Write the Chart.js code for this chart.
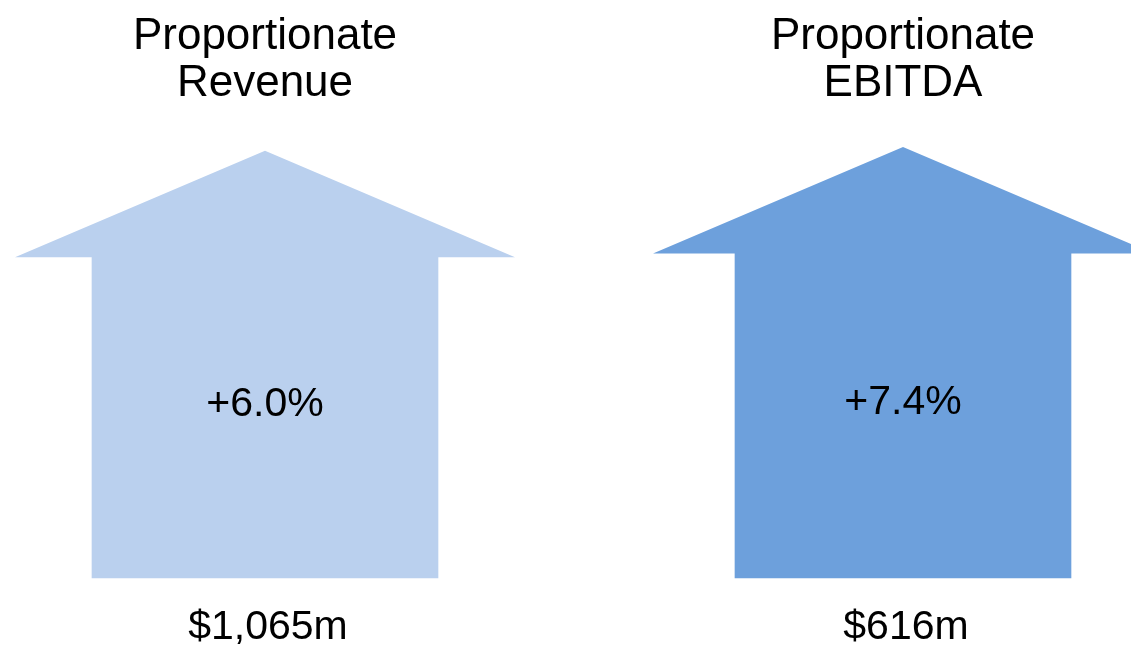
<!DOCTYPE html>
<html>
<head>
<meta charset="utf-8">
<script src="https://cdn.jsdelivr.net/npm/chart.js"></script>
<style>
  html, body { margin: 0; padding: 0; background: #ffffff; }
  #wrap { width: 1131px; height: 646px; }
</style>
</head>
<body>
<div id="wrap"><canvas id="arrows-chart"></canvas></div>
<script>
    // values
    const categories = [['Proportionate', 'Revenue'], ['Proportionate', 'EBITDA']];
    const growth = ['+6.0%', '+7.4%'];
    const amounts = ['$1,065m', '$616m'];
    const arrowBody = [74.7, 75.6];   // body height, % of plot height

    const colors = ['#BAD0EE', '#6DA0DC'];
    const bodyWidths = [346, 336];
    const FONT = '"Liberation Sans", Arial, Helvetica, sans-serif';

    // draws the arrow heads and all the text
    const arrowPlugin = {
        id: 'arrows',
        afterDatasetsDraw(chart) {
            const c = chart.ctx;
            chart.data.datasets.forEach((ds, di) => {
                const meta = chart.getDatasetMeta(di);
                meta.data.forEach((bar, i) => {
                    if (ds.data[i] == null) return;
                    const w = bar.width;
                    const hw = 250;
                    const hh = 106;
                    c.save();
                    c.fillStyle = ds.backgroundColor;
                    c.beginPath();
                    c.moveTo(bar.x - hw, bar.y + 0.5);
                    c.lineTo(bar.x, bar.y - hh);
                    c.lineTo(bar.x + hw, bar.y + 0.5);
                    c.lineTo(bar.x + w / 2, bar.y + 0.5);
                    c.lineTo(bar.x + w / 2, bar.y + 2);
                    c.lineTo(bar.x - w / 2, bar.y + 2);
                    c.lineTo(bar.x - w / 2, bar.y + 0.5);
                    c.closePath();
                    c.fill();

                    c.fillStyle = '#000000';
                    c.textAlign = 'center';
                    c.textBaseline = 'alphabetic';
                    c.font = '44px ' + FONT;
                    categories[i].forEach((line, li) => {
                        c.fillText(line, bar.x, 49 + li * 47);
                    });

                    c.font = '41px ' + FONT;
                    c.textBaseline = 'middle';
                    c.fillText(growth[i], bar.x, bar.y + (bar.base - bar.y) * 0.455 + 2);

                    c.textBaseline = 'alphabetic';
                    c.fillText(amounts[i], bar.x + 3, chart.height - 7);
                    c.restore();
                });
            });
        }
    };

    const ctx = document.getElementById('arrows-chart').getContext('2d');
    new Chart(ctx, {
        type: 'bar',
        data: {
            labels: categories.map(l => l.join(' ')),
            datasets: categories.map((cat, i) => ({
                label: cat.join(' '),
                data: arrowBody.map((v, j) => (j === i ? v : null)),
                backgroundColor: colors[i],
                borderWidth: 0,
                barThickness: bodyWidths[i],
                clip: false,
            }))
        },
        options: {
            responsive: true,
            maintainAspectRatio: false,
            animation: false,
            events: [],
            layout: { padding: { left: 265, right: 228, top: 148, bottom: 68 } },
            datasets: { bar: { grouped: false } },
            plugins: {
                legend: { display: false },
                tooltip: { enabled: false },
            },
            scales: {
                x: { display: false, offset: false, grid: { display: false } },
                y: { display: false, min: 0, max: 100 }
            }
        },
        plugins: [arrowPlugin]
    });
</script>
</body>
</html>
